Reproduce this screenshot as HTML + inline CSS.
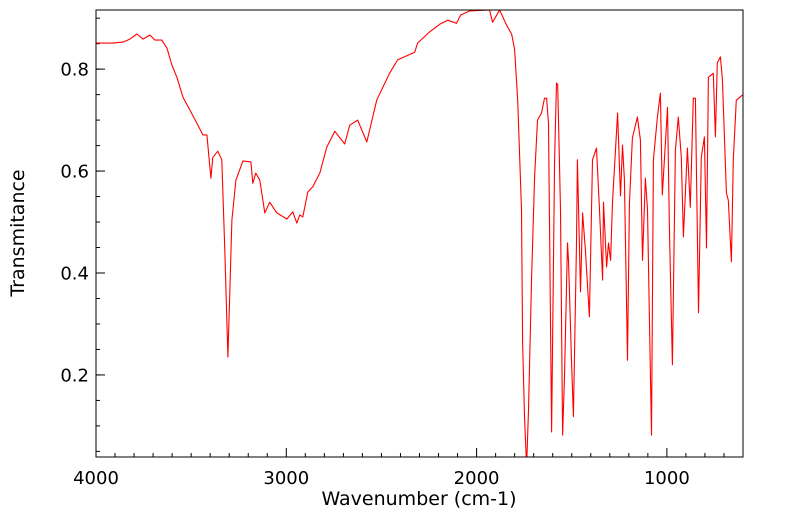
<!DOCTYPE html>
<html><head><meta charset="utf-8"><style>
html,body{margin:0;padding:0;background:#fff;}
svg{display:block;font-family:"DejaVu Sans","Liberation Sans",sans-serif;}
</style></head><body>
<svg id="chart" width="799" height="516">
<defs><clipPath id="clip"><rect x="96" y="10" width="647" height="447"/></clipPath></defs>
<g id="ticks"></g>
<g id="labels"></g>
<path id="line" fill="none" stroke="#ff0000" stroke-width="1.1" stroke-linejoin="round" clip-path="url(#clip)"/>
<rect x="96" y="10" width="647" height="447" fill="none" stroke="#000" stroke-width="1"/>
<text x="419" y="505" text-anchor="middle" font-size="19">Wavenumber (cm-1)</text>
<text x="24" y="233" text-anchor="middle" font-size="19" transform="rotate(-90 24 233)">Transmitance</text>
</svg>
<script>
const wavenumbers = [4000,3911,3858,3822,3785,3753,3717,3690,3654,3627,3601,3575,3543,3507,3470,3438,3417,3396,3386,3360,3339,3323,3307,3286,3265,3228,3186,3176,3160,3139,3113,3087,3050,2997,2966,2945,2929,2913,2887,2861,2824,2787,2745,2693,2667,2625,2577,2525,2457,2415,2325,2310,2247,2194,2152,2105,2084,2037,1932,1916,1879,1842,1816,1800,1784,1764,1758,1748,1737,1727,1711,1695,1680,1659,1643,1632,1622,1606,1590,1580,1574,1559,1548,1538,1522,1517,1501,1491,1475,1470,1454,1443,1428,1407,1391,1370,1354,1338,1333,1317,1307,1296,1286,1259,1244,1233,1223,1207,1197,1181,1155,1139,1128,1113,1102,1081,1071,1050,1034,1024,997,987,971,955,940,924,913,892,877,861,850,834,819,803,792,782,756,745,735,719,708,687,677,661,651,635,603];
const transmittance = [0.851,0.851,0.853,0.859,0.869,0.859,0.867,0.857,0.857,0.841,0.808,0.784,0.745,0.720,0.694,0.671,0.671,0.586,0.627,0.639,0.622,0.445,0.235,0.504,0.582,0.620,0.618,0.576,0.596,0.582,0.518,0.539,0.518,0.506,0.520,0.498,0.514,0.510,0.559,0.569,0.596,0.647,0.678,0.653,0.690,0.700,0.657,0.739,0.792,0.818,0.833,0.851,0.873,0.888,0.896,0.890,0.906,0.914,0.916,0.892,0.916,0.886,0.869,0.839,0.739,0.524,0.263,0.118,0.02,0.131,0.392,0.588,0.700,0.714,0.743,0.743,0.694,0.088,0.622,0.773,0.769,0.524,0.082,0.196,0.459,0.425,0.229,0.118,0.459,0.622,0.363,0.518,0.445,0.314,0.622,0.645,0.524,0.386,0.539,0.412,0.459,0.425,0.539,0.714,0.551,0.651,0.584,0.229,0.535,0.665,0.706,0.661,0.425,0.586,0.524,0.082,0.622,0.706,0.753,0.553,0.725,0.490,0.220,0.641,0.706,0.627,0.471,0.645,0.529,0.743,0.743,0.322,0.627,0.667,0.449,0.784,0.792,0.667,0.812,0.824,0.780,0.557,0.543,0.422,0.622,0.739,0.749];
const xTicks = [4000,3000,2000,1000];
const xTickLabels = ["4000","3000","2000","1000"];
const yTicks = [0.2,0.4,0.6,0.8];
const yTickLabels = ["0.2","0.4","0.6","0.8"];

const X0=96, X1=743, Y0=10, Y1=457;
const WN_MAX=4000, WN_MIN=600, T_MAX=0.916, T_MIN=0.039;
function xs(w){return X0+(WN_MAX-w)/(WN_MAX-WN_MIN)*(X1-X0);}
function ys(t){return Y0+(T_MAX-t)/(T_MAX-T_MIN)*(Y1-Y0);}
const NS="http://www.w3.org/2000/svg";
let d="";
for(let i=0;i<wavenumbers.length;i++){d+=(i?"L":"M")+xs(wavenumbers[i]).toFixed(1)+","+ys(transmittance[i]).toFixed(1);}
document.getElementById('line').setAttribute('d',d);
const tg=document.getElementById('ticks'), lg=document.getElementById('labels');
function tick(x1,y1,x2,y2,name){const l=document.createElementNS(NS,'line');
l.setAttribute('x1',x1);l.setAttribute('y1',y1);l.setAttribute('x2',x2);l.setAttribute('y2',y2);
l.setAttribute('stroke','#000');l.setAttribute('stroke-width','1');


tg.appendChild(l);}
for(let w=3900;w>WN_MIN;w-=100){ if(w%1000!==0){const x=xs(w);tick(x,Y1,x,Y1-4,'x-minor-tick');} }
for(let t=0.05;t<T_MAX;t+=0.05){const y=ys(t);tick(X0,y,X0+4,y,'y-minor-tick');}
xTicks.forEach((w,i)=>{const x=xs(w);tick(x,Y1,x,Y1-9,'x-major-tick');
const t=document.createElementNS(NS,'text');t.setAttribute('x',x);t.setAttribute('y',Y1+27);
t.setAttribute('text-anchor','middle');t.setAttribute('font-size','18');t.textContent=xTickLabels[i];


lg.appendChild(t);});
yTicks.forEach((v,i)=>{const y=ys(v);tick(X0,y,X0+9,y,'y-major-tick');
const t=document.createElementNS(NS,'text');t.setAttribute('x',X0-7);t.setAttribute('y',y+6.5);
t.setAttribute('text-anchor','end');t.setAttribute('font-size','18');t.textContent=yTickLabels[i];


lg.appendChild(t);});
</script>
</body></html>
